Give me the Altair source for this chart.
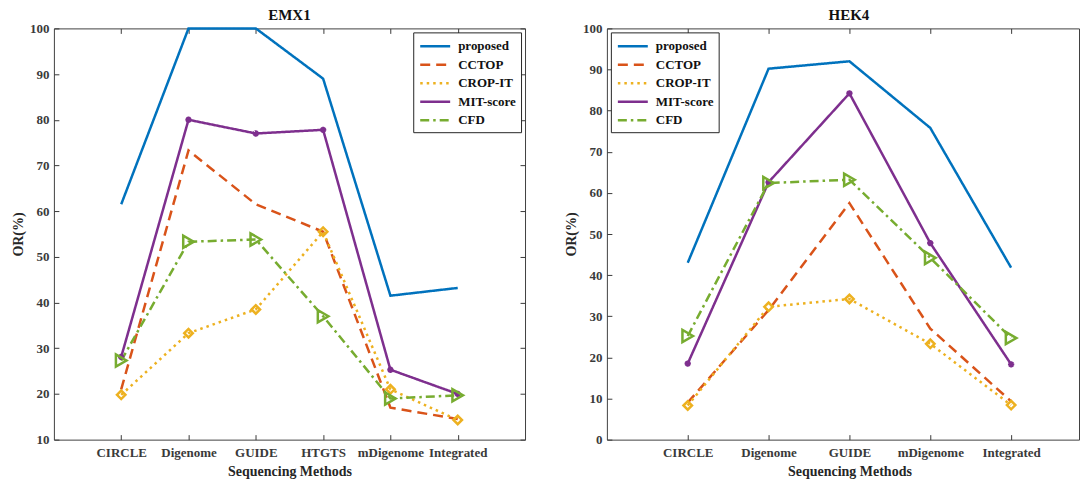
import altair as alt
import pandas as pd

# Sequencing methods per target site
emx1_methods = ["CIRCLE", "Digenome", "GUIDE", "HTGTS", "mDigenome", "Integrated"]
hek4_methods = ["CIRCLE", "Digenome", "GUIDE", "mDigenome", "Integrated"]

series_names = ["proposed", "CCTOP", "CROP-IT", "MIT-score", "CFD"]
series_colors = ["#0072BD", "#D95319", "#EDB120", "#7E2F8E", "#77AC30"]
series_dashes = [[1, 0], [10, 6], [2.5, 4], [1, 0], [9, 4, 2.5, 4]]

# OR(%) values, EMX1
emx1_proposed = [61.5, 100.0, 100.0, 89.0, 41.5, 43.2]
emx1_cctop = [21.0, 73.3, 61.5, 55.5, 17.0, 14.5]
emx1_cropit = [19.8, 33.3, 38.5, 55.5, 21.0, 14.3]
emx1_mit = [28.1, 80.0, 77.0, 77.8, 25.3, 20.0]
emx1_cfd = [27.3, 53.3, 53.8, 37.0, 19.0, 19.7]

# OR(%) values, HEK4
hek4_proposed = [43.0, 90.2, 92.0, 75.8, 41.8]
hek4_cctop = [9.0, 31.5, 57.5, 27.0, 9.3]
hek4_cropit = [8.3, 32.3, 34.2, 23.3, 8.4]
hek4_mit = [18.5, 62.6, 84.2, 47.8, 18.3]
hek4_cfd = [25.2, 62.4, 63.2, 44.2, 24.7]

FONT = "Liberation Serif"
AXIS_GREY = "#3a3a3a"
asterisk = "M-1,0L1,0M0,-1L0,1M-0.7,-0.7L0.7,0.7M-0.7,0.7L0.7,-0.7"
markers = [("CROP-IT", "diamond", 72, 2.5), ("MIT-score", asterisk, 40, 2.0),
           ("CFD", "triangle-right", 150, 2.5)]
color_of = dict(zip(series_names, series_colors))
# wide flat stroke for the legend key: twice as long as the entry is tall
legend_key = "M-2,0L2,0"


def long_table(methods, values_by_series):
    rows = []
    for name, vals in zip(series_names, values_by_series):
        for i, (m, v) in enumerate(zip(methods, vals)):
            rows.append({"series": name, "method": m, "pos": i + 1, "value": v})
    return pd.DataFrame(rows)


def panel(title, methods, values, y_domain, x_max, width, legend_orient,
          title_dx, x_title_x, right_ticks):
    df = long_table(methods, values)
    tick_pos = list(range(1, len(methods) + 1))
    y_ticks = list(range(y_domain[0], y_domain[1] + 1, 10))
    label_expr = "[" + ",".join(f"'{m}'" for m in methods) + "][datum.value - 1]"
    x_scale = alt.Scale(domain=[0, x_max], nice=False, zero=False)
    y_scale = alt.Scale(domain=y_domain, nice=False, zero=False)

    legend = alt.Legend(
        title=None, orient=legend_orient, offset=4, fillColor="white",
        strokeColor="#262626", padding=5, labelFont=FONT, labelFontSize=13,
        labelFontWeight="bold", labelColor="#111111", labelAlign="left",
        symbolType=legend_key, symbolSize=225, symbolStrokeWidth=2.5,
        symbolOffset=8, labelOffset=14, rowPadding=2.5, columns=1,
    )
    x_axis_args = dict(
        values=tick_pos, labelExpr=label_expr, title="Sequencing Methods",
        offset=-5, tickSize=5, domain=False, grid=False, labelPadding=7,
        titlePadding=5, labelOverlap=False,
    )
    if x_title_x is not None:
        x_axis_args["titleX"] = x_title_x

    base = alt.Chart(df)
    lines = base.mark_line(strokeWidth=2.5, strokeCap="butt").encode(
        x=alt.X("pos:Q", scale=x_scale, axis=alt.Axis(**x_axis_args)),
        y=alt.Y("value:Q", scale=y_scale, axis=alt.Axis(
            values=y_ticks, title="OR(%)", offset=-5, tickSize=5, domain=False,
            grid=False, labelPadding=5, titlePadding=4)),
        color=alt.Color("series:N", scale=alt.Scale(domain=series_names, range=series_colors), legend=legend),
        strokeDash=alt.StrokeDash("series:N", scale=alt.Scale(domain=series_names, range=series_dashes), legend=legend),
    )

    points = []
    for name, shape, size, sw in markers:
        points.append(
            base.transform_filter(alt.datum.series == name)
            .mark_point(shape=shape, size=size, filled=False, strokeWidth=sw,
                        color=color_of[name], opacity=1)
            .encode(x=alt.X("pos:Q", scale=x_scale, axis=None),
                    y=alt.Y("value:Q", scale=y_scale, axis=None))
        )

    # mirrored inward ticks on the top (and right) edges of the box
    mirror_y = (alt.Y("value:Q", scale=y_scale, axis=alt.Axis(
        orient="right", values=y_ticks, labels=False, title=None, domain=False,
        grid=False, tickSize=5, offset=-5)) if right_ticks
        else alt.Y("value:Q", scale=y_scale, axis=None))
    mirror = base.mark_line(opacity=0).encode(
        x=alt.X("pos:Q", scale=x_scale, axis=alt.Axis(
            orient="top", values=tick_pos, labels=False, title=None, domain=False,
            grid=False, tickSize=5, offset=-5)),
        y=mirror_y,
        detail="series:N",
    )

    return alt.layer(lines, *points, mirror).resolve_axis(
        x="independent", y="independent"
    ).properties(
        width=width, height=412,
        title=alt.TitleParams(title, fontSize=15, font=FONT, fontWeight="bold",
                              color="#111111", offset=5, anchor="middle",
                              dx=title_dx, dy=6),
    )


left = panel("EMX1", emx1_methods,
             [emx1_proposed, emx1_cctop, emx1_cropit, emx1_mit, emx1_cfd],
             [10, 100], 7, 472, "top-right", 0, None, True)
right = panel("HEK4", hek4_methods,
              [hek4_proposed, hek4_cctop, hek4_cropit, hek4_mit, hek4_cfd],
              [0, 100], 473 / 81, 473, "top-left", 6, 243, False)

chart = alt.hconcat(left, right, spacing=38).properties(
    padding={"left": 11, "top": 7, "right": 0, "bottom": 0}
).configure_view(
    stroke="#404040", strokeWidth=1
).configure_axis(
    labelFont=FONT, labelFontSize=13, labelFontWeight="bold", labelColor=AXIS_GREY,
    titleFont=FONT, titleFontSize=14, titleFontWeight="bold", titleColor="#262626",
    tickColor=AXIS_GREY, tickWidth=1,
)

chart.save("out.html", embed_options={"renderer": "svg", "actions": False})
